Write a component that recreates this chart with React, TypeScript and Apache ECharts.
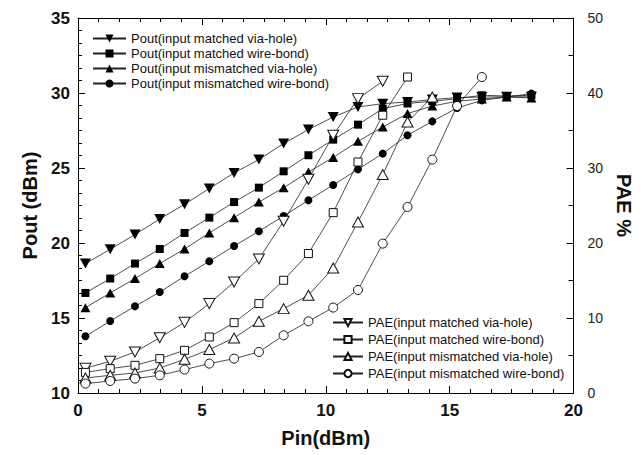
import React, { useEffect, useRef } from "react";
import * as echarts from "echarts";

// Pin (dBm) sample points
const pin = [0.3, 1.3, 2.3, 3.3, 4.3, 5.3, 6.3, 7.3, 8.3, 9.3, 10.3, 11.3, 12.3, 13.3, 14.3, 15.3, 16.3, 17.3, 18.3];

// Pout (dBm)
const poutMatchedVia = [18.63, 19.58, 20.56, 21.6, 22.58, 23.63, 24.67, 25.56, 26.63, 27.56, 28.4, 29.07, 29.29, 29.4, 29.56, 29.7, 29.73, 29.75, 29.75];
const poutMatchedWire = [16.67, 17.63, 18.63, 19.6, 20.67, 21.69, 22.73, 23.69, 24.78, 25.85, 26.89, 27.89, 28.96, 29.3, 29.45, 29.62, 29.85, 29.8, 29.85];
const poutMismatchedVia = [15.69, 16.67, 17.63, 18.63, 19.6, 20.67, 21.69, 22.73, 23.69, 24.73, 25.7, 26.78, 27.73, 28.63, 29.13, 29.45, 29.6, 29.73, 29.67];
const poutMismatchedWire = [13.78, 14.8, 15.78, 16.73, 17.78, 18.78, 19.8, 20.78, 21.8, 22.85, 23.87, 24.91, 25.96, 27.18, 28.11, 29.0, 29.51, 29.73, 29.96];

// PAE (%)
const paeMatchedVia = [3.3, 4.23, 5.47, 7.36, 9.42, 11.92, 14.8, 17.88, 22.9, 28.5, 34.36, 39.25, 41.56];
const paeMatchedWire = [2.75, 3.25, 3.69, 4.58, 5.69, 7.47, 9.38, 11.92, 15.03, 18.59, 24.05, 30.8, 37.03, 42.13];
const paeMismatchedVia = [2.0, 2.36, 2.67, 3.33, 4.49, 5.79, 7.33, 9.56, 11.25, 13.03, 16.67, 22.8, 29.12, 36.13, 39.47];
const paeMismatchedWire = [1.25, 1.6, 1.92, 2.36, 3.12, 3.92, 4.58, 5.47, 7.69, 9.56, 11.39, 13.74, 19.92, 24.8, 31.12, 38.27, 42.13];

const poutNames = [
  "Pout(input matched via-hole)",
  "Pout(input matched wire-bond)",
  "Pout(input mismatched via-hole)",
  "Pout(input mismatched wire-bond)",
];
const paeNames = [
  "PAE(input matched via-hole)",
  "PAE(input matched wire-bond)",
  "PAE(input mismatched via-hole)",
  "PAE(input mismatched wire-bond)",
];

const FONT = "'Liberation Sans', Arial, sans-serif";

function mk(name: string, ys: number[], symbol: string, rotate: number, size: any, filled: boolean, yAxisIndex: number) {
  return {
    name,
    type: "line",
    xAxisIndex: 0,
    yAxisIndex,
    data: ys.map((v, i) => [pin[i], v]),
    symbol,
    symbolRotate: rotate,
    symbolSize: size,
    showAllSymbol: true,
    lineStyle: { color: "#222", width: 0.8 },
    itemStyle: filled
      ? { color: "#000", borderColor: "#000", borderWidth: 0 }
      : { color: "#fff", borderColor: "#111", borderWidth: 1 },
    emphasis: { disabled: true },
    z: 3,
  };
}

export default function App() {
  const ref = useRef<HTMLDivElement>(null);
  useEffect(() => {
    if (!ref.current) return;
    const chart = echarts.init(ref.current, undefined, { renderer: "svg" });
    const axisCommon = {
      axisLine: { show: true, onZero: false, lineStyle: { color: "#000", width: 1 } },
      splitLine: { show: false },
      minorSplitLine: { show: false },
    };
    chart.setOption({
      animation: false,
      backgroundColor: "#fff",
      textStyle: { fontFamily: FONT },
      grid: { left: 78, right: 63, top: 18, bottom: 62 },
      xAxis: [
        {
          type: "value", min: 0, max: 20, interval: 5, position: "bottom",
          name: "Pin(dBm)", nameLocation: "middle", nameGap: 35,
          nameTextStyle: { fontSize: 20, fontWeight: "bold", color: "#111", fontFamily: FONT },
          ...axisCommon,
          axisTick: { inside: true, length: 7, lineStyle: { color: "#000" } },
          minorTick: { show: true, splitNumber: 6, length: 4, lineStyle: { color: "#000" } },
          axisLabel: { fontSize: 17, fontWeight: "bold", color: "#111", margin: 9, fontFamily: FONT },
        },
        {
          type: "value", min: 0, max: 20, interval: 5, position: "top",
          ...axisCommon,
          axisTick: { inside: true, length: 7, lineStyle: { color: "#000" } },
          minorTick: { show: true, splitNumber: 6, length: 4, lineStyle: { color: "#000" } },
          axisLabel: { show: false },
        },
      ],
      yAxis: [
        {
          type: "value", min: 10, max: 35, interval: 5, position: "left",
          name: "Pout (dBm)", nameLocation: "middle", nameGap: 37, nameRotate: 90,
          nameTextStyle: { fontSize: 20, fontWeight: "bold", color: "#111", fontFamily: FONT },
          ...axisCommon,
          axisTick: { inside: true, length: 7, lineStyle: { color: "#000" } },
          minorTick: { show: true, splitNumber: 6, length: 4, lineStyle: { color: "#000" } },
          axisLabel: { fontSize: 17, fontWeight: "bold", color: "#111", margin: 8, fontFamily: FONT },
        },
        {
          type: "value", min: 0, max: 50, interval: 10, position: "right",
          name: "PAE %", nameLocation: "middle", nameGap: 37, nameRotate: -90,
          nameTextStyle: { fontSize: 20, fontWeight: "bold", color: "#111", fontFamily: FONT },
          ...axisCommon,
          axisTick: { inside: true, length: 7, lineStyle: { color: "#000" } },
          minorTick: { show: true, splitNumber: 2, length: 5, lineStyle: { color: "#000" } },
          axisLabel: { fontSize: 14, color: "#222", margin: 14, fontFamily: FONT },
        },
      ],
      legend: [
        {
          orient: "vertical", left: 92, top: 32, padding: 0,
          itemWidth: 33, itemHeight: 10, itemGap: 2,
          selectedMode: false,
          textStyle: { fontSize: 13, color: "#111", fontFamily: FONT },
          data: poutNames,
        },
        {
          orient: "vertical", left: 332, top: 316, padding: 0,
          itemWidth: 30, itemHeight: 9, itemGap: 4,
          selectedMode: false,
          textStyle: { fontSize: 13, color: "#111", fontFamily: FONT },
          data: paeNames,
        },
      ],
      series: [
        mk(poutNames[0], poutMatchedVia, "triangle", 180, [11, 10], true, 0),
        mk(poutNames[1], poutMatchedWire, "rect", 0, 8, true, 0),
        mk(poutNames[2], poutMismatchedVia, "triangle", 0, [10, 9], true, 0),
        mk(poutNames[3], poutMismatchedWire, "circle", 0, 8, true, 0),
        mk(paeNames[0], paeMatchedVia, "triangle", 180, [11, 10], false, 1),
        mk(paeNames[1], paeMatchedWire, "rect", 0, 8, false, 1),
        mk(paeNames[2], paeMismatchedVia, "triangle", 0, [11, 10], false, 1),
        mk(paeNames[3], paeMismatchedWire, "circle", 0, 9, false, 1),
      ],
    });
    return () => chart.dispose();
  }, []);
  return <div ref={ref} style={{ position: "absolute", left: 0, top: 0, width: 642, height: 455 }} />;
}
